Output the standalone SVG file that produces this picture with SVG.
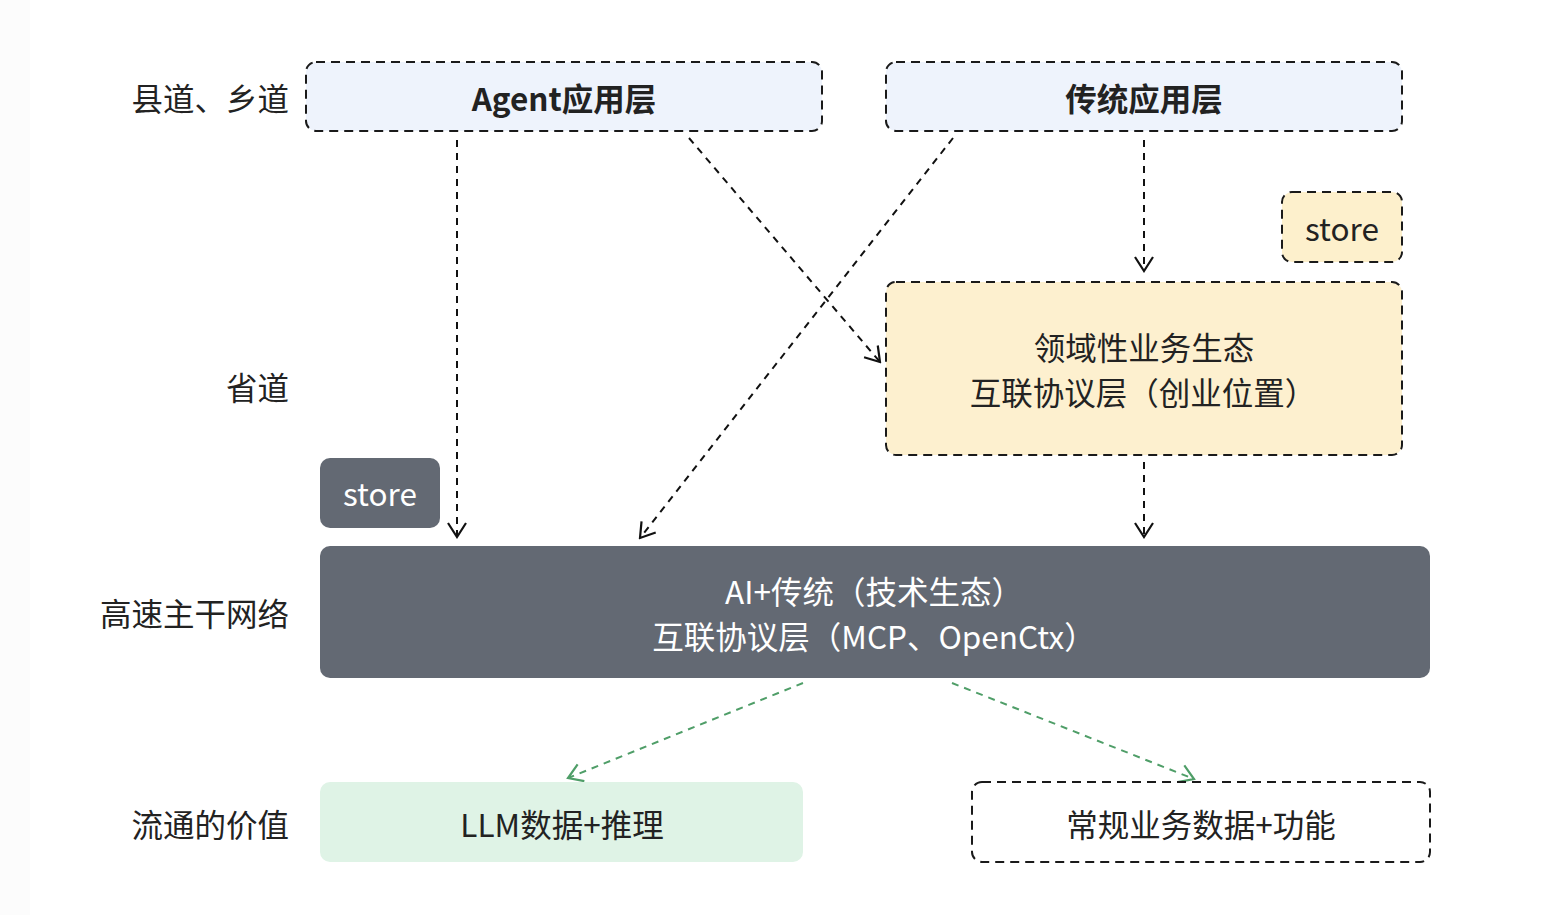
<svg xmlns="http://www.w3.org/2000/svg" width="1545" height="915" viewBox="0 0 1545 915">
<style>
text{font-family:"Noto Sans CJK SC","Noto Sans",sans-serif;text-anchor:middle;dominant-baseline:central}
.lbl{font-size:31.5px;fill:#222;text-anchor:end}
.dash{stroke:#1a1a1a;stroke-width:2;stroke-dasharray:9 6}
.conn{fill:none;stroke:#111;stroke-width:2;stroke-dasharray:7 6}
.green{fill:none;stroke:#4f9e68;stroke-width:2;stroke-dasharray:7 6}
.t{font-size:31.5px;fill:#222}
.w{font-size:31.5px;fill:#fff}
.b{font-size:31.5px;font-weight:bold;fill:#222}
</style>
<defs>
<marker id="ah" viewBox="0 0 22 22" refX="20" refY="11" markerWidth="22" markerHeight="22" markerUnits="userSpaceOnUse" orient="auto">
<path d="M6,2 L20,11 L6,20" fill="none" stroke="#111" stroke-width="2.2"/>
</marker>
<marker id="ahg" viewBox="0 0 22 22" refX="20" refY="11" markerWidth="22" markerHeight="22" markerUnits="userSpaceOnUse" orient="auto">
<path d="M6,2 L20,11 L6,20" fill="none" stroke="#4f9e68" stroke-width="2.2"/>
</marker>
</defs>
<rect x="0" y="0" width="1545" height="915" fill="#fff"/>
<rect x="0" y="0" width="30" height="915" fill="#fcfcfc"/>
<g id="labels">
<text class="lbl" x="289" y="97">县道、乡道</text>
<text class="lbl" x="289" y="386">省道</text>
<text class="lbl" x="289" y="612">高速主干网络</text>
<text class="lbl" x="289" y="823">流通的价值</text>
</g>
<g id="connectors">
<line class="conn" x1="457" y1="140" x2="457" y2="537" marker-end="url(#ah)"/>
<line class="conn" x1="689" y1="138" x2="880" y2="362" marker-end="url(#ah)"/>
<line class="conn" x1="953" y1="138" x2="640" y2="538" marker-end="url(#ah)"/>
<line class="conn" x1="1144" y1="140" x2="1144" y2="271" marker-end="url(#ah)"/>
<line class="conn" x1="1144" y1="462" x2="1144" y2="537" marker-end="url(#ah)"/>
<line class="green" x1="803" y1="683" x2="568" y2="778" marker-end="url(#ahg)"/>
<line class="green" x1="952" y1="683" x2="1194" y2="779" marker-end="url(#ahg)"/>
</g>
<g id="agent">
<rect class="dash" x="306" y="62" width="516" height="69" rx="10" fill="#eef3fc"/>
<text class="b" x="564" y="97">Agent应用层</text>
</g>
<g id="traditional">
<rect class="dash" x="886" y="62" width="516" height="69" rx="10" fill="#eef3fc"/>
<text class="b" x="1144" y="97">传统应用层</text>
</g>
<g id="store-yellow">
<rect class="dash" x="1282" y="192" width="120" height="70" rx="10" fill="#fdf0cc"/>
<text class="t" x="1342" y="227">store</text>
</g>
<g id="domain">
<rect class="dash" x="886" y="282" width="516" height="173" rx="10" fill="#fdf0cf"/>
<text class="t" x="1144" y="346">领域性业务生态</text>
<text class="t" x="1143" y="391">互联协议层（创业位置）</text>
</g>
<g id="store-dark">
<rect x="320" y="458" width="120" height="70" rx="10" fill="#636973"/>
<text class="w" x="380" y="492">store</text>
</g>
<g id="highway">
<rect x="320" y="546" width="1110" height="132" rx="10" fill="#636973"/>
<text class="w" x="874" y="590">AI+传统（技术生态）</text>
<text class="w" x="874" y="635">互联协议层（MCP、OpenCtx）</text>
</g>
<g id="llm">
<rect x="320" y="782" width="483" height="80" rx="10" fill="#dff3e6"/>
<text class="t" x="562" y="823">LLM数据+推理</text>
</g>
<g id="regular">
<rect class="dash" x="972" y="782" width="458" height="80" rx="10" fill="#fff"/>
<text class="t" x="1201" y="823">常规业务数据+功能</text>
</g>
</svg>
